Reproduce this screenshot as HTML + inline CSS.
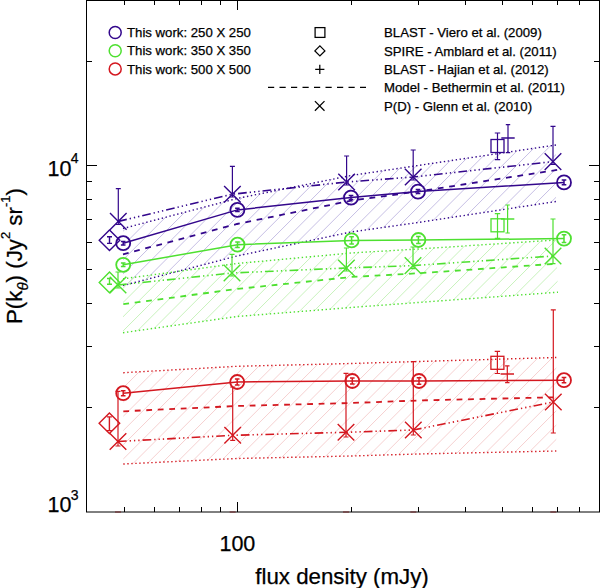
<!DOCTYPE html>
<html><head><meta charset="utf-8"><style>
html,body{margin:0;padding:0;background:#fff;}
svg{display:block;font-family:"Liberation Sans",sans-serif;}
text{stroke:#000;stroke-width:0.25px;}
</style></head><body>
<svg width="600" height="588" viewBox="0 0 600 588">
<defs><clipPath id="cP"><polygon points="123,228.5 237,198.5 351,175.5 418,165.5 556,145 556,201.5 418,222.5 351,232 237,256 123,285.5"/></clipPath><clipPath id="cG"><polygon points="123,278.8 237,263.5 351,253 418,249 556,240 558,292.2 418,302.5 351,307.5 237,316.5 123,332.7"/></clipPath><clipPath id="cR"><polygon points="123.3,372.7 237,366.3 351,363.5 418,361.5 556.3,357.5 556.3,451 418,454 351,456 237,458.5 123.3,464"/></clipPath></defs>
<g font-size="13.2" fill="#000">
<path d="M110,144.55L570,-315.45M110,158.80L570,-301.20M110,173.05L570,-286.95M110,187.30L570,-272.70M110,201.55L570,-258.45M110,215.80L570,-244.20M110,230.05L570,-229.95M110,244.30L570,-215.70M110,258.55L570,-201.45M110,272.80L570,-187.20M110,287.05L570,-172.95M110,301.30L570,-158.70M110,315.55L570,-144.45M110,329.80L570,-130.20M110,344.05L570,-115.95M110,358.30L570,-101.70M110,372.55L570,-87.45M110,386.80L570,-73.20M110,401.05L570,-58.95M110,415.30L570,-44.70M110,429.55L570,-30.45M110,443.80L570,-16.20M110,458.05L570,-1.95M110,472.30L570,12.30M110,486.55L570,26.55M110,500.80L570,40.80M110,515.05L570,55.05M110,529.30L570,69.30M110,543.55L570,83.55M110,557.80L570,97.80M110,572.05L570,112.05M110,586.30L570,126.30M110,600.55L570,140.55M110,614.80L570,154.80M110,629.05L570,169.05M110,643.30L570,183.30M110,657.55L570,197.55M110,671.80L570,211.80M110,686.05L570,226.05M110,700.30L570,240.30M110,714.55L570,254.55M110,728.80L570,268.80M110,743.05L570,283.05" stroke="#c6bfe4" stroke-width="1" fill="none" clip-path="url(#cP)"/>
<polyline points="123,228.5 237,198.5 351,175.5 418,165.5 556,145" stroke="#33078c" stroke-width="1.4" stroke-dasharray="1.4 2.6" fill="none"/>
<polyline points="123,285.5 237,256 351,232 418,222.5 556,201.5" stroke="#33078c" stroke-width="1.4" stroke-dasharray="1.4 2.6" fill="none"/>
<polyline points="123,254.4 237,224 351,200.7 418,191.5 559,169.6" stroke="#33078c" stroke-width="1.8" stroke-dasharray="5.8 5.7" fill="none"/>
<polyline points="118.3,221.4 232.4,194.2 346.6,182 413.2,177 553,161.6" stroke="#33078c" stroke-width="1.6" stroke-dasharray="8.7 3 1.3 3 1.3 3 1.3 3" fill="none"/>
<polyline points="123.2,243.2 237.4,209.9 351,197.6 418,191.6 564,182.4" stroke="#33078c" stroke-width="1.5" fill="none"/>
<path d="M110.0,213.1L126.6,229.70000000000002M110.0,229.70000000000002L126.6,213.1" stroke="#33078c" stroke-width="1.4" fill="none"/>
<path d="M118.3,188.6V224.5M115.8,188.6H120.8M115.8,224.5H120.8" stroke="#33078c" stroke-width="1.2" fill="none"/>
<path d="M224.1,185.89999999999998L240.70000000000002,202.5M224.1,202.5L240.70000000000002,185.89999999999998" stroke="#33078c" stroke-width="1.4" fill="none"/>
<path d="M232.4,166.3V197M229.9,166.3H234.9M229.9,197H234.9" stroke="#33078c" stroke-width="1.2" fill="none"/>
<path d="M338.3,173.7L354.90000000000003,190.3M338.3,190.3L354.90000000000003,173.7" stroke="#33078c" stroke-width="1.4" fill="none"/>
<path d="M346.6,156V185M344.1,156H349.1M344.1,185H349.1" stroke="#33078c" stroke-width="1.2" fill="none"/>
<path d="M404.9,168.7L421.5,185.3M404.9,185.3L421.5,168.7" stroke="#33078c" stroke-width="1.4" fill="none"/>
<path d="M413.2,150V180M410.7,150H415.7M410.7,180H415.7" stroke="#33078c" stroke-width="1.2" fill="none"/>
<path d="M544.7,153.29999999999998L561.3,169.9M544.7,169.9L561.3,153.29999999999998" stroke="#33078c" stroke-width="1.4" fill="none"/>
<path d="M553,126.4V164.5M550.5,126.4H555.5M550.5,164.5H555.5" stroke="#33078c" stroke-width="1.2" fill="none"/>
<circle cx="123.2" cy="243.2" r="7" stroke="#33078c" stroke-width="1.8" fill="none"/>
<path d="M123.2,241.39999999999998V245.0M120.9,241.39999999999998H125.5M120.9,245.0H125.5" stroke="#33078c" stroke-width="1.5" fill="none"/>
<circle cx="237.4" cy="209.9" r="7" stroke="#33078c" stroke-width="1.8" fill="none"/>
<path d="M237.4,208.20000000000002V211.6M235.1,208.20000000000002H239.70000000000002M235.1,211.6H239.70000000000002" stroke="#33078c" stroke-width="1.5" fill="none"/>
<circle cx="351" cy="197.6" r="7" stroke="#33078c" stroke-width="1.8" fill="none"/>
<path d="M351,195.6V199.6M348.7,195.6H353.3M348.7,199.6H353.3" stroke="#33078c" stroke-width="1.5" fill="none"/>
<circle cx="418" cy="191.6" r="7" stroke="#33078c" stroke-width="1.8" fill="none"/>
<path d="M418,189.6V193.6M415.7,189.6H420.3M415.7,193.6H420.3" stroke="#33078c" stroke-width="1.5" fill="none"/>
<circle cx="564" cy="182.4" r="7" stroke="#33078c" stroke-width="1.8" fill="none"/>
<path d="M564,180.0V184.8M561.7,180.0H566.3M561.7,184.8H566.3" stroke="#33078c" stroke-width="1.5" fill="none"/>
<path d="M99.2,240.2L109.5,229.89999999999998L119.8,240.2L109.5,250.5Z" stroke="#33078c" stroke-width="1.4" fill="none"/>
<path d="M109.5,236.8V243.4M107.0,236.8H112.0M107.0,243.4H112.0" stroke="#33078c" stroke-width="1.4" fill="none"/>
<rect x="491.0" y="139.5" width="13" height="13" stroke="#33078c" stroke-width="1.3" fill="none"/>
<path d="M497.5,133V159.6M494.8,133H500.2M494.8,159.6H500.2" stroke="#33078c" stroke-width="1.2" fill="none"/>
<path d="M501.3,138H514.7" stroke="#33078c" stroke-width="1.5" fill="none"/>
<path d="M508,124.6V152.6M505.8,124.6H510.2M505.8,152.6H510.2" stroke="#33078c" stroke-width="1.2" fill="none"/>
<path d="M110,244.30L570,-215.70M110,258.55L570,-201.45M110,272.80L570,-187.20M110,287.05L570,-172.95M110,301.30L570,-158.70M110,315.55L570,-144.45M110,329.80L570,-130.20M110,344.05L570,-115.95M110,358.30L570,-101.70M110,372.55L570,-87.45M110,386.80L570,-73.20M110,401.05L570,-58.95M110,415.30L570,-44.70M110,429.55L570,-30.45M110,443.80L570,-16.20M110,458.05L570,-1.95M110,472.30L570,12.30M110,486.55L570,26.55M110,500.80L570,40.80M110,515.05L570,55.05M110,529.30L570,69.30M110,543.55L570,83.55M110,557.80L570,97.80M110,572.05L570,112.05M110,586.30L570,126.30M110,600.55L570,140.55M110,614.80L570,154.80M110,629.05L570,169.05M110,643.30L570,183.30M110,657.55L570,197.55M110,671.80L570,211.80M110,686.05L570,226.05M110,700.30L570,240.30M110,714.55L570,254.55M110,728.80L570,268.80M110,743.05L570,283.05M110,757.30L570,297.30M110,771.55L570,311.55M110,785.80L570,325.80" stroke="#c8f2bc" stroke-width="1" fill="none" clip-path="url(#cG)"/>
<polyline points="123,278.8 237,263.5 351,253 418,249 556,240" stroke="#4ee030" stroke-width="1.4" stroke-dasharray="1.4 2.6" fill="none"/>
<polyline points="123,332.7 237,316.5 351,307.5 418,302.5 558,292.2" stroke="#4ee030" stroke-width="1.4" stroke-dasharray="1.4 2.6" fill="none"/>
<polyline points="123.3,304.1 237,289 351,277 418,273.3 558,263.6" stroke="#4ee030" stroke-width="1.8" stroke-dasharray="5.8 5.7" fill="none"/>
<polyline points="118,285 232,273 346.4,268 413,265.6 553,256" stroke="#4ee030" stroke-width="1.6" stroke-dasharray="8.7 3 1.3 3 1.3 3 1.3 3" fill="none"/>
<polyline points="123.2,264.8 237.5,244.7 351.6,240.4 418.4,240 564,238.6" stroke="#4ee030" stroke-width="1.5" fill="none"/>
<path d="M109.7,276.7L126.3,293.3M109.7,293.3L126.3,276.7" stroke="#4ee030" stroke-width="1.4" fill="none"/>
<path d="M118,272V288M115.5,272H120.5M115.5,288H120.5" stroke="#4ee030" stroke-width="1.2" fill="none"/>
<path d="M223.7,264.7L240.3,281.3M223.7,281.3L240.3,264.7" stroke="#4ee030" stroke-width="1.4" fill="none"/>
<path d="M232,254.4V276M229.5,254.4H234.5M229.5,276H234.5" stroke="#4ee030" stroke-width="1.2" fill="none"/>
<path d="M338.09999999999997,259.7L354.7,276.3M338.09999999999997,276.3L354.7,259.7" stroke="#4ee030" stroke-width="1.4" fill="none"/>
<path d="M346.4,248V271M343.9,248H348.9M343.9,271H348.9" stroke="#4ee030" stroke-width="1.2" fill="none"/>
<path d="M404.7,257.3L421.3,273.90000000000003M404.7,273.90000000000003L421.3,257.3" stroke="#4ee030" stroke-width="1.4" fill="none"/>
<path d="M413,247V268.6M410.5,247H415.5M410.5,268.6H415.5" stroke="#4ee030" stroke-width="1.2" fill="none"/>
<path d="M544.7,247.7L561.3,264.3M544.7,264.3L561.3,247.7" stroke="#4ee030" stroke-width="1.4" fill="none"/>
<path d="M553,219V263.6M550.5,219H555.5M550.5,263.6H555.5" stroke="#4ee030" stroke-width="1.2" fill="none"/>
<circle cx="123.2" cy="264.8" r="7" stroke="#4ee030" stroke-width="1.8" fill="none"/>
<path d="M123.2,263.0V266.6M120.9,263.0H125.5M120.9,266.6H125.5" stroke="#4ee030" stroke-width="1.5" fill="none"/>
<circle cx="237.5" cy="244.7" r="7" stroke="#4ee030" stroke-width="1.8" fill="none"/>
<path d="M237.5,241.89999999999998V247.5M235.2,241.89999999999998H239.8M235.2,247.5H239.8" stroke="#4ee030" stroke-width="1.5" fill="none"/>
<circle cx="351.6" cy="240.4" r="7" stroke="#4ee030" stroke-width="1.8" fill="none"/>
<path d="M351.6,236.70000000000002V244.1M349.3,236.70000000000002H353.90000000000003M349.3,244.1H353.90000000000003" stroke="#4ee030" stroke-width="1.5" fill="none"/>
<circle cx="418.4" cy="240" r="7" stroke="#4ee030" stroke-width="1.8" fill="none"/>
<path d="M418.4,236.5V243.5M416.09999999999997,236.5H420.7M416.09999999999997,243.5H420.7" stroke="#4ee030" stroke-width="1.5" fill="none"/>
<circle cx="564" cy="238.6" r="7" stroke="#4ee030" stroke-width="1.8" fill="none"/>
<path d="M564,234.79999999999998V242.4M561.7,234.79999999999998H566.3M561.7,242.4H566.3" stroke="#4ee030" stroke-width="1.5" fill="none"/>
<path d="M99.2,282.4L109.5,272.09999999999997L119.8,282.4L109.5,292.7Z" stroke="#4ee030" stroke-width="1.4" fill="none"/>
<path d="M109.5,278.5V284.3M107.0,278.5H112.0M107.0,284.3H112.0" stroke="#4ee030" stroke-width="1.4" fill="none"/>
<rect x="491.0" y="218.8" width="13" height="13" stroke="#4ee030" stroke-width="1.3" fill="none"/>
<path d="M497.5,213.6V238.4M494.8,213.6H500.2M494.8,238.4H500.2" stroke="#4ee030" stroke-width="1.2" fill="none"/>
<path d="M500.90000000000003,219H514.3000000000001" stroke="#4ee030" stroke-width="1.5" fill="none"/>
<path d="M507.6,205V233M505.40000000000003,205H509.8M505.40000000000003,233H509.8" stroke="#4ee030" stroke-width="1.2" fill="none"/>
<path d="M110,358.30L570,-101.70M110,372.55L570,-87.45M110,386.80L570,-73.20M110,401.05L570,-58.95M110,415.30L570,-44.70M110,429.55L570,-30.45M110,443.80L570,-16.20M110,458.05L570,-1.95M110,472.30L570,12.30M110,486.55L570,26.55M110,500.80L570,40.80M110,515.05L570,55.05M110,529.30L570,69.30M110,543.55L570,83.55M110,557.80L570,97.80M110,572.05L570,112.05M110,586.30L570,126.30M110,600.55L570,140.55M110,614.80L570,154.80M110,629.05L570,169.05M110,643.30L570,183.30M110,657.55L570,197.55M110,671.80L570,211.80M110,686.05L570,226.05M110,700.30L570,240.30M110,714.55L570,254.55M110,728.80L570,268.80M110,743.05L570,283.05M110,757.30L570,297.30M110,771.55L570,311.55M110,785.80L570,325.80M110,800.05L570,340.05M110,814.30L570,354.30M110,828.55L570,368.55M110,842.80L570,382.80M110,857.05L570,397.05M110,871.30L570,411.30M110,885.55L570,425.55M110,899.80L570,439.80M110,914.05L570,454.05" stroke="#f6d0d0" stroke-width="1" fill="none" clip-path="url(#cR)"/>
<polyline points="123.3,372.7 237,366.3 351,363.5 418,361.5 556.3,357.5" stroke="#d41820" stroke-width="1.4" stroke-dasharray="1.4 2.6" fill="none"/>
<polyline points="123.3,464 237,458.5 351,456 418,454 556.3,451" stroke="#d41820" stroke-width="1.4" stroke-dasharray="1.4 2.6" fill="none"/>
<polyline points="123.3,411.3 237,406 351,403 418,400.5 553.3,397.3" stroke="#d41820" stroke-width="1.8" stroke-dasharray="5.8 5.7" fill="none"/>
<polyline points="118,441.5 232.7,435.3 346,432.3 413.3,430 553.3,402" stroke="#d41820" stroke-width="1.6" stroke-dasharray="8.7 3 1.3 3 1.3 3 1.3 3" fill="none"/>
<polyline points="123.2,393.2 237.2,382 352.3,381 419,381 564,380.2" stroke="#d41820" stroke-width="1.5" fill="none"/>
<path d="M109.7,433.2L126.3,449.8M109.7,449.8L126.3,433.2" stroke="#d41820" stroke-width="1.4" fill="none"/>
<path d="M118,391.3V446M115.5,391.3H120.5M115.5,446H120.5" stroke="#d41820" stroke-width="1.2" fill="none"/>
<path d="M224.39999999999998,427.0L241.0,443.6M224.39999999999998,443.6L241.0,427.0" stroke="#d41820" stroke-width="1.4" fill="none"/>
<path d="M232.7,387V440.3M230.2,387H235.2M230.2,440.3H235.2" stroke="#d41820" stroke-width="1.2" fill="none"/>
<path d="M337.7,424.0L354.3,440.6M337.7,440.6L354.3,424.0" stroke="#d41820" stroke-width="1.4" fill="none"/>
<path d="M346,373.3V437M343.5,373.3H348.5M343.5,437H348.5" stroke="#d41820" stroke-width="1.2" fill="none"/>
<path d="M405.0,421.7L421.6,438.3M405.0,438.3L421.6,421.7" stroke="#d41820" stroke-width="1.4" fill="none"/>
<path d="M413.3,361.7V435M410.8,361.7H415.8M410.8,435H415.8" stroke="#d41820" stroke-width="1.2" fill="none"/>
<path d="M545.0,393.7L561.5999999999999,410.3M545.0,410.3L561.5999999999999,393.7" stroke="#d41820" stroke-width="1.4" fill="none"/>
<path d="M553.3,309.8V433M550.8,309.8H555.8M550.8,433H555.8" stroke="#d41820" stroke-width="1.2" fill="none"/>
<circle cx="123.2" cy="393.2" r="7" stroke="#d41820" stroke-width="1.8" fill="none"/>
<path d="M123.2,390.7V395.7M120.9,390.7H125.5M120.9,395.7H125.5" stroke="#d41820" stroke-width="1.5" fill="none"/>
<circle cx="237.2" cy="382" r="7" stroke="#d41820" stroke-width="1.8" fill="none"/>
<path d="M237.2,379V385M234.89999999999998,379H239.5M234.89999999999998,385H239.5" stroke="#d41820" stroke-width="1.5" fill="none"/>
<circle cx="352.3" cy="381" r="7" stroke="#d41820" stroke-width="1.8" fill="none"/>
<path d="M352.3,378V384M350.0,378H354.6M350.0,384H354.6" stroke="#d41820" stroke-width="1.5" fill="none"/>
<circle cx="419" cy="381" r="7" stroke="#d41820" stroke-width="1.8" fill="none"/>
<path d="M419,377.7V384.3M416.7,377.7H421.3M416.7,384.3H421.3" stroke="#d41820" stroke-width="1.5" fill="none"/>
<circle cx="564" cy="380.2" r="7" stroke="#d41820" stroke-width="1.8" fill="none"/>
<path d="M564,377.59999999999997V382.8M561.7,377.59999999999997H566.3M561.7,382.8H566.3" stroke="#d41820" stroke-width="1.5" fill="none"/>
<path d="M99.10000000000001,423.3L109.4,413.0L119.7,423.3L109.4,433.6Z" stroke="#d41820" stroke-width="1.4" fill="none"/>
<path d="M109.4,416.9V430.6M106.9,416.9H111.9M106.9,430.6H111.9" stroke="#d41820" stroke-width="1.4" fill="none"/>
<rect x="490.9" y="356.3" width="13" height="13" stroke="#d41820" stroke-width="1.3" fill="none"/>
<path d="M497.4,351.4V373.5M494.7,351.4H500.09999999999997M494.7,373.5H500.09999999999997" stroke="#d41820" stroke-width="1.2" fill="none"/>
<path d="M500.6,374H514.0" stroke="#d41820" stroke-width="1.5" fill="none"/>
<path d="M507.3,365.8V382.6M505.1,365.8H509.5M505.1,382.6H509.5" stroke="#d41820" stroke-width="1.2" fill="none"/>
<path d="M115,512H121" stroke="#d41820" stroke-opacity="0.55" stroke-width="1.5"/>
<path d="M229.7,512H235.7" stroke="#d41820" stroke-opacity="0.55" stroke-width="1.5"/>
<path d="M343,512H349" stroke="#d41820" stroke-opacity="0.55" stroke-width="1.5"/>
<path d="M410.3,512H416.3" stroke="#d41820" stroke-opacity="0.55" stroke-width="1.5"/>
<path d="M550.3,512H556.3" stroke="#d41820" stroke-opacity="0.55" stroke-width="1.5"/>
<path d="M86.5,0V512M599.5,0V512M86,0.5H600M86,512H600" stroke="#000" stroke-width="1" fill="none"/>
<path d="M124.5,512V507M124.5,0V5M154.5,512V507M154.5,0V5M179.5,512V507M179.5,0V5M201.5,512V507M201.5,0V5M220.5,512V507M220.5,0V5M351.5,512V507M351.5,0V5M418.5,512V507M418.5,0V5M465.5,512V507M465.5,0V5M502.5,512V507M502.5,0V5M532.5,512V507M532.5,0V5M557.5,512V507M557.5,0V5M579.5,512V507M579.5,0V5M237.5,512V502M237.5,0V10M86,407.5H92M600,407.5H594M86,346.5H92M600,346.5H594M86,303.5H92M600,303.5H594M86,269.5H92M600,269.5H594M86,242.5H92M600,242.5H594M86,219.5H92M600,219.5H594M86,199.5H92M600,199.5H594M86,181.5H92M600,181.5H594M86,61.5H92M600,61.5H594M86,165.5H97M600,165.5H589" stroke="#000" stroke-width="1" fill="none"/>
<circle cx="115.2" cy="32.5" r="6" stroke="#33078c" stroke-width="1.5" fill="none"/>
<text x="127" y="37.1">This work: 250 X 250</text>
<circle cx="115.2" cy="50.7" r="6" stroke="#4ee030" stroke-width="1.5" fill="none"/>
<text x="127" y="55.300000000000004">This work: 350 X 350</text>
<circle cx="115.2" cy="68.9" r="6" stroke="#d41820" stroke-width="1.5" fill="none"/>
<text x="127" y="73.5">This work: 500 X 500</text>
<rect x="315.1" y="27.6" width="9.8" height="9.8" stroke="#000" stroke-width="1.25" fill="none"/>
<path d="M314.9,50.9L319.9,45.9L324.9,50.9L319.9,55.9Z" stroke="#000" stroke-width="1.25" fill="none"/>
<path d="M315.2,69.3H324.4M319.8,64.7V73.9" stroke="#000" stroke-width="1.25" fill="none"/>
<path d="M268,87.3H366" stroke="#000" stroke-width="1.3" stroke-dasharray="6.2 5.3" fill="none"/>
<path d="M314.9,101.1L324.5,110.7M314.9,110.7L324.5,101.1" stroke="#000" stroke-width="1.25" fill="none"/>
<text x="384" y="37.1">BLAST - Viero et al. (2009)</text>
<text x="384" y="55.5">SPIRE - Amblard et al. (2011)</text>
<text x="384" y="73.89999999999999">BLAST - Hajian et al. (2012)</text>
<text x="384" y="92.1">Model - Bethermin et al. (2011)</text>
<text x="384" y="110.5">P(D) - Glenn et al. (2010)</text>
<text x="237.4" y="551" font-size="21.5" text-anchor="middle">100</text>
<text x="342" y="584" font-size="22.3" text-anchor="middle">flux density (mJy)</text>
<text x="47.5" y="176" font-size="21.5">10</text><text x="70.8" y="163.2" font-size="14">4</text>
<text x="47.5" y="512" font-size="21.5">10</text><text x="70.8" y="499.6" font-size="14">3</text>
<g transform="translate(22,324) rotate(-90)"><text x="0" y="0" font-size="22.3">P(k<tspan font-size="15" dy="5.5" font-style="italic">θ</tspan><tspan dy="-5.5">) (Jy</tspan><tspan font-size="13" dy="-12">2</tspan><tspan dy="12"> sr</tspan><tspan font-size="13" dy="-12">-1</tspan><tspan dy="12">)</tspan></text></g>
</g>
</svg>
</body></html>
